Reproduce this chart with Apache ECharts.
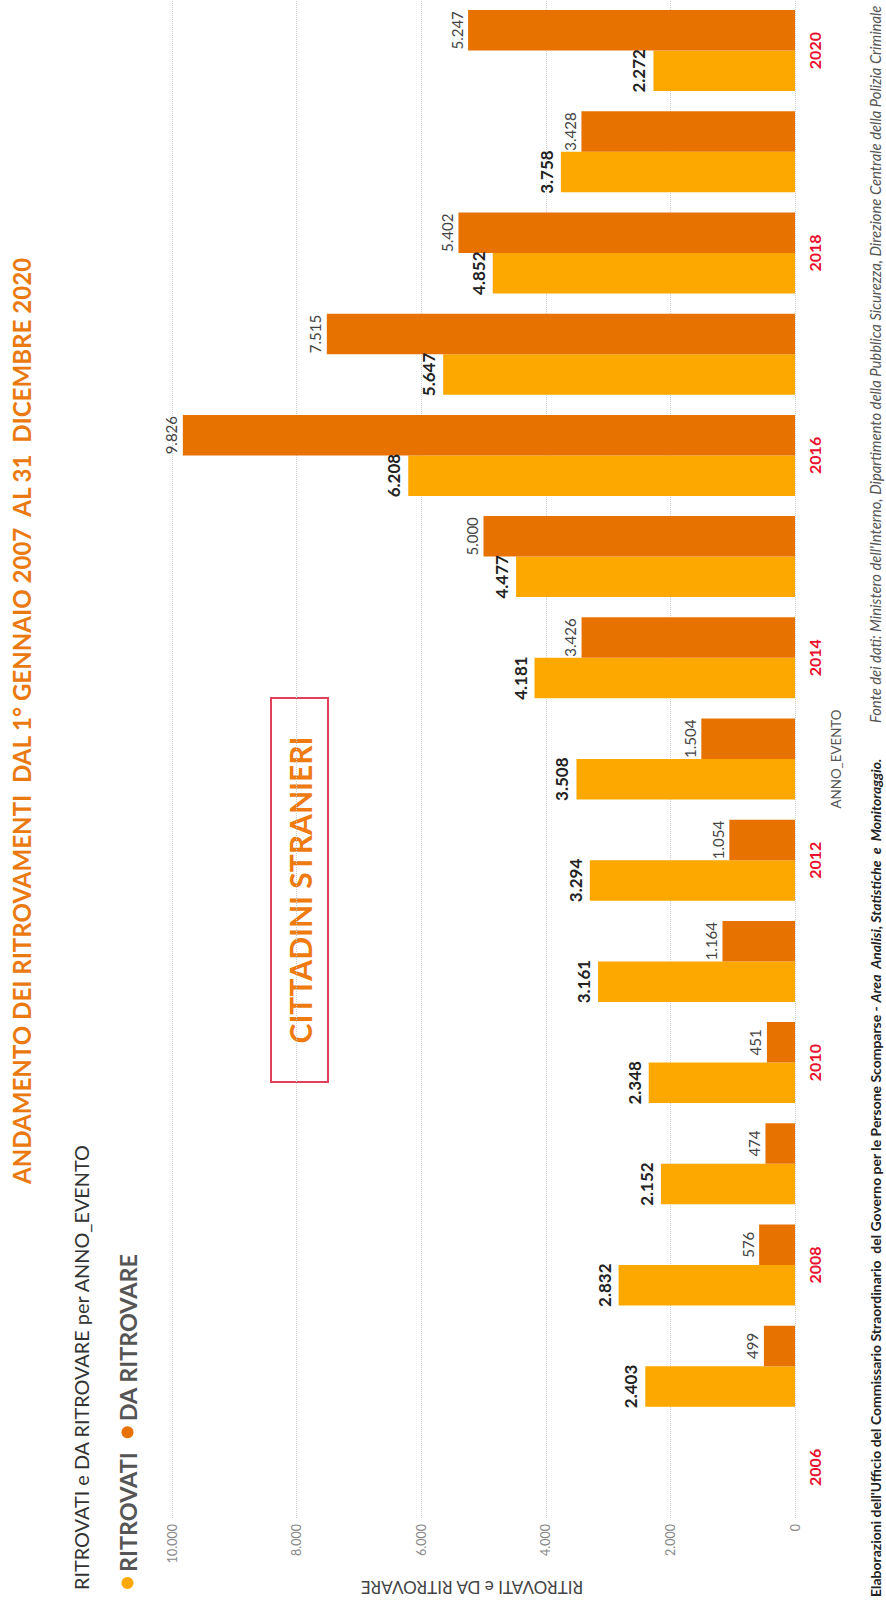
<!DOCTYPE html>
<html>
<head>
<meta charset="utf-8">
<script src="https://cdn.jsdelivr.net/npm/echarts@6/dist/echarts.min.js"></script>
<style>
  html, body { margin: 0; padding: 0; background: #ffffff; overflow: hidden; }
  body { width: 886px; height: 1600px; position: relative; }
  #chart {
    position: absolute; left: 0; top: 1600px;
    width: 1600px; height: 886px;
    transform-origin: 0 0; transform: rotate(-90deg);
  }
</style>
</head>
<body>
<div id="chart"></div>
<script>
// ---- data ----
const years = ['2006','2007','2008','2009','2010','2011','2012','2013','2014','2015','2016','2017','2018','2019','2020'];
const ritrovati   = [null, 2403, 2832, 2152, 2348, 3161, 3294, 3508, 4181, 4477, 6208, 5647, 4852, 3758, 2272];
const daRitrovare = [null,  499,  576,  474,  451, 1164, 1054, 1504, 3426, 5000, 9826, 7515, 5402, 3428, 5247];
const seriesNames = ['RITROVATI', 'DA RITROVARE'];
const valueMin = 0, valueMax = 10000, valueStep = 2000;

const titleText = 'ANDAMENTO DEI RITROVAMENTI  DAL 1° GENNAIO 2007  AL 31  DICEMBRE 2020';
const subtitleText = 'RITROVATI e DA RITROVARE per ANNO_EVENTO';
const boxText = 'CITTADINI STRANIERI';
const xName = 'ANNO_EVENTO';
const yName = 'RITROVATI e DA RITROVARE';
const footerA = "Elaborazioni dell'Ufficio del Commissario Straordinario  del Governo per le Persone Scomparse - ";
const footerB = 'Area  Analisi, Statistiche  e  Monitoraggio.';
const footerC = "Fonte dei dati: Ministero dell'Interno, Dipartimento della Pubblica Sicurezza, Direzione Centrale della Polizia Criminale";

function fmt(v) {
  if (v == null) return '';
  return String(Math.round(v)).replace(/\B(?=(\d{3})+(?!\d))/g, '.');
}

const FAM = 'Lato';
const FONT = 'Lato, "Open Sans", sans-serif';
// font-size fitting so that texts occupy the same length as in the reference
const mctx = document.createElement('canvas').getContext('2d');
function textW(text, size, weight, style) {
  mctx.font = (style || 'normal') + ' ' + (weight || 'normal') + ' ' + size + 'px ' + FONT;
  return mctx.measureText(text).width;
}
function fit(text, target, weight, style) {
  return 100 * target / textW(text, 100, weight, style);
}

const titleSize = fit(titleText, 929, 'bold');
const subSize = fit(subtitleText, 447, 'normal');
const legendSize = (fit(seriesNames[0], 120, 'bold') + fit(seriesNames[1], 168, 'bold')) / 2;
const boxSize = fit(boxText, 307, 'bold');
const yNameSize = fit(yName, 223, 'normal');
const xNameSize = fit(xName, 99, 'normal');
const footSize = fit(footerA + footerB, 854, 'bold');
const footAW = textW(footerA, footSize, 'bold');
const footCSize = fit(footerC, 718, 'normal', 'italic');

const chart = echarts.init(document.getElementById('chart'), null, { renderer: 'svg', width: 1600, height: 886 });

chart.setOption({
  animation: false,
  backgroundColor: '#ffffff',
  textStyle: { fontFamily: FONT },
  color: ['#FCA800', '#E87200'],
  legend: {
    data: seriesNames,
    left: 6, top: 121 - 10,
    icon: 'circle', itemWidth: 12, itemHeight: 12, itemGap: 14,
    textStyle: { fontSize: legendSize, fontWeight: 'bold', color: '#555', fontFamily: FONT }
  },
  grid: { left: 82, right: -2, top: 172, bottom: 91, containLabel: false },
  xAxis: {
    type: 'category', data: years,
    axisLine: { show: false }, axisTick: { show: false },
    axisLabel: { interval: 1, color: '#E8102E', fontWeight: 'bold', fontSize: 16, margin: 11 },
    name: xName, nameLocation: 'middle', nameGap: 34,
    nameTextStyle: { fontSize: xNameSize, color: '#555' }
  },
  yAxis: {
    type: 'value', min: valueMin, max: valueMax, interval: valueStep,
    axisLine: { show: false }, axisTick: { show: false },
    axisLabel: { formatter: fmt, color: '#888', fontSize: 12.5, margin: 6 },
    splitLine: { lineStyle: { type: 'dotted', color: '#cfcfcf', width: 1 } }
  },
  series: [
    {
      name: seriesNames[0], type: 'bar', data: ritrovati,
      barGap: '0%', barCategoryGap: '20%',
      label: { show: true, position: 'top', distance: 6, formatter: p => fmt(p.value),
               color: '#222', fontWeight: 'bold', fontSize: 17 }
    },
    {
      name: seriesNames[1], type: 'bar', data: daRitrovare,
      barGap: '0%', barCategoryGap: '20%',
      label: { show: true, position: 'top', distance: 4, formatter: p => fmt(p.value),
               color: '#444', fontSize: 15 }
    }
  ],
  graphic: [
    { type: 'text', x: 416, y: 21,
      style: { text: titleText, fill: '#EA7A10', fontSize: titleSize, fontWeight: 'bold', fontFamily: FONT,
               align: 'left', verticalAlign: 'middle', textAlign: 'left', textVerticalAlign: 'middle' } },
    { type: 'text', x: 10, y: 81,
      style: { text: subtitleText, fill: '#333', fontSize: subSize, fontFamily: FONT,
               align: 'left', verticalAlign: 'middle', textAlign: 'left', textVerticalAlign: 'middle' } },
    { type: 'text', x: 13, y: 472, rotation: Math.PI / 2,
      style: { text: yName, fill: '#444', fontSize: yNameSize, fontFamily: FONT,
               align: 'center', verticalAlign: 'middle', textAlign: 'center', textVerticalAlign: 'middle' } },
    { type: 'rect', shape: { x: 518, y: 271, width: 384, height: 57 },
      style: { fill: 'rgba(0,0,0,0)', stroke: '#E0405A', lineWidth: 2 } },
    { type: 'text', x: 710, y: 300,
      style: { text: boxText, fill: '#EE7A10', fontSize: boxSize, fontWeight: 'bold', fontFamily: FONT,
               align: 'center', verticalAlign: 'middle', textAlign: 'center', textVerticalAlign: 'middle' } },
    { type: 'text', x: 3, y: 875,
      style: { text: footerA, fill: '#222', fontSize: footSize, fontWeight: 'bold', fontFamily: FONT,
               align: 'left', verticalAlign: 'middle', textAlign: 'left', textVerticalAlign: 'middle' } },
    { type: 'text', x: 3 + footAW, y: 875,
      style: { text: footerB, fill: '#222', fontSize: footSize, fontWeight: 'bold', fontStyle: 'italic', fontFamily: FONT,
               align: 'left', verticalAlign: 'middle', textAlign: 'left', textVerticalAlign: 'middle' } },
    { type: 'text', x: 877, y: 875,
      style: { text: footerC, fill: '#555', fontSize: footCSize, fontStyle: 'italic', fontFamily: FONT,
               align: 'left', verticalAlign: 'middle', textAlign: 'left', textVerticalAlign: 'middle' } }
  ]
});
</script>
</body>
</html>
